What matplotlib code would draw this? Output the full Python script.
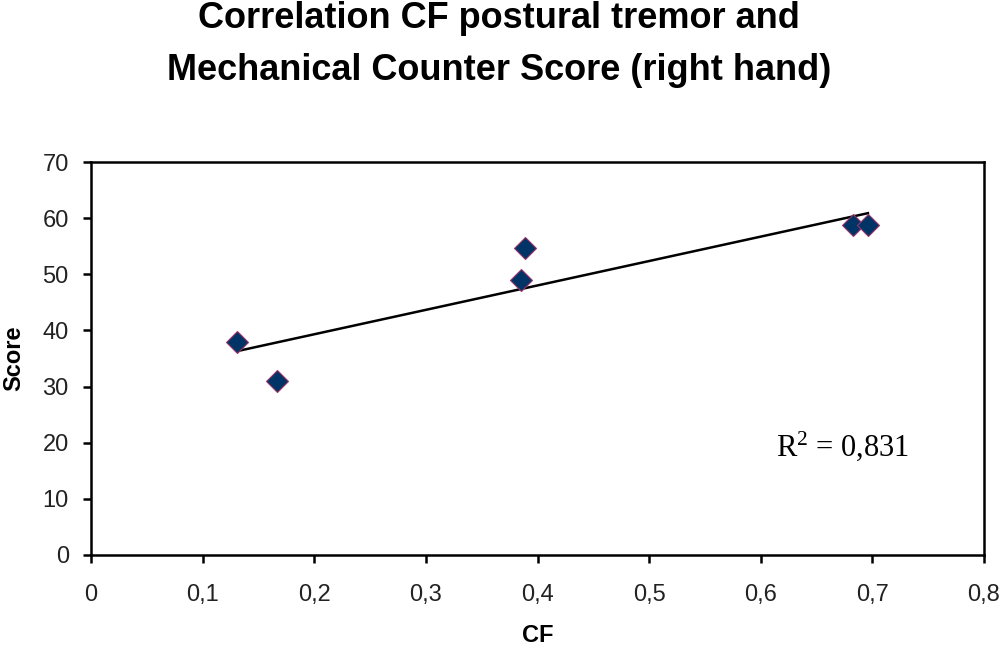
import numpy as np
import matplotlib
matplotlib.use('Agg')
import matplotlib.pyplot as plt
from matplotlib.ticker import FuncFormatter

# data
cf = [0.131, 0.167, 0.385, 0.389, 0.683, 0.696]
score = [38, 31, 49, 54.7, 58.8, 58.8]
r2_label = r'R$\mathregular{^2}$ = 0,831'
title_lines = ['Correlation CF postural tremor and',
               'Mechanical Counter Score (right hand)']

plt.rcParams['font.family'] = ['Liberation Sans', 'DejaVu Sans']

fig = plt.figure(figsize=(10, 6.47), dpi=100)
ax = fig.add_axes([0.091, 0.1422, 0.893, 0.6074])

# linear trend line over the data range
slope, icpt = np.polyfit(cf, score, 1)
xs = np.array([min(cf), max(cf)])
ax.plot(xs, slope * xs + icpt, color='black', lw=1.8, zorder=2)

ax.plot(cf, score, linestyle='none', marker='D', markersize=11,
        markerfacecolor='#003366', markeredgecolor='#993366',
        markeredgewidth=0.8, zorder=3)

ax.set_xlim(0, 0.8)
ax.set_ylim(0, 70)
ax.set_xticks(np.arange(0, 0.81, 0.1))
ax.set_yticks(range(0, 71, 10))
ax.xaxis.set_major_formatter(FuncFormatter(lambda v, p: ('%g' % round(v, 1)).replace('.', ',')))

for s in ax.spines.values():
    s.set_linewidth(1.8)
ax.tick_params(direction='out', length=6, width=1.8, labelsize=17,
               labelcolor='#222222', top=False, right=False)
ax.tick_params(axis='x', pad=15)
ax.tick_params(axis='y', pad=10)

ax.set_xlabel('CF', fontsize=17, fontweight='bold', labelpad=13)
ax.set_ylabel('Score', fontsize=17, fontweight='bold', labelpad=12)

ax.text(0.614, 17.6, r2_label, fontsize=22, family=['Liberation Serif', 'DejaVu Serif'])

fig.text(0.499, 1 - 28.5 / 647, title_lines[0], ha='center', va='baseline',
         fontsize=26, fontweight='bold')
fig.text(0.499, 1 - 80 / 647, title_lines[1], ha='center', va='baseline',
         fontsize=26, fontweight='bold')

fig.savefig('out.png', dpi=100)
